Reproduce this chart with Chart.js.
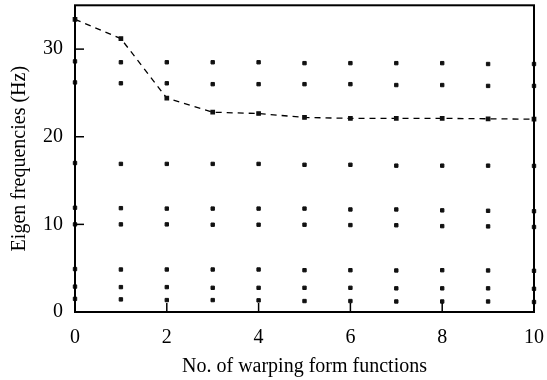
<!DOCTYPE html>
<html lang="en">
<head>
  <meta charset="UTF-8">
  <title>Eigen frequencies</title>
  <script src="https://cdn.jsdelivr.net/npm/chart.js"></script>
  <style>
    html, body { margin: 0; padding: 0; background: #fff; }
    #wrap { width: 547px; height: 380px; }
  </style>
</head>
<body>
<div id="wrap"><canvas id="chart" width="547" height="380"></canvas></div>
<script>
  // number of warping form functions
  const nFunctions = [0, 1, 2, 3, 4, 5, 6, 7, 8, 9, 10];
  const yTicks = [0, 10, 20, 30];
  const xTicks = [0, 2, 4, 6, 8, 10];

  // eigen frequencies (Hz), one array per mode
  const freqDashed = [33.4, 31.2, 24.4, 22.8, 22.65, 22.2, 22.1, 22.1, 22.1, 22.05, 22.0];
  const freq28 = [28.6, 28.5, 28.5, 28.5, 28.5, 28.4, 28.4, 28.4, 28.4, 28.3, 28.3];
  const freq26 = [26.2, 26.1, 26.1, 26.0, 26.0, 26.0, 26.0, 25.9, 25.9, 25.8, 25.8];
  const freq17 = [17.0, 16.9, 16.9, 16.9, 16.9, 16.8, 16.8, 16.7, 16.7, 16.7, 16.67];
  const freq12 = [11.9, 11.85, 11.8, 11.8, 11.8, 11.8, 11.7, 11.7, 11.6, 11.55, 11.5];
  const freq10 = [10.0, 10.0, 10.0, 9.96, 9.96, 9.96, 9.92, 9.9, 9.8, 9.77, 9.7];
  const freq5 = [4.9, 4.85, 4.85, 4.85, 4.85, 4.77, 4.77, 4.74, 4.77, 4.74, 4.7];
  const freq3 = [2.9, 2.84, 2.84, 2.76, 2.76, 2.76, 2.76, 2.7, 2.7, 2.7, 2.65];
  const freq1 = [1.5, 1.44, 1.36, 1.36, 1.33, 1.25, 1.25, 1.2, 1.2, 1.2, 1.14];

  const FONT = "'Liberation Serif', 'DejaVu Serif', serif";

  function pts(arr) {
    return arr.map((v, i) => ({ x: nFunctions[i], y: v }));
  }

  function markers(arr) {
    return {
      data: pts(arr),
      showLine: false,
      pointStyle: 'rect',
      pointRadius: 2.4,
      pointBackgroundColor: '#111',
      pointBorderColor: '#111',
      pointBorderWidth: 1,
      clip: false
    };
  }

  // frame + inward ticks, like gnuplot
  const framePlugin = {
    id: 'frame',
    afterDatasetsDraw(chart) {
      const { ctx, chartArea: a, scales } = chart;
      ctx.save();
      ctx.strokeStyle = '#000';
      ctx.lineWidth = 1.5;
      xTicks.forEach(v => {
        const px = scales.x.getPixelForValue(v);
        ctx.beginPath();
        ctx.moveTo(px, a.bottom);
        ctx.lineTo(px, a.bottom - 9);
        ctx.stroke();
      });
      yTicks.forEach(v => {
        const py = scales.y.getPixelForValue(v);
        ctx.beginPath();
        ctx.moveTo(a.left, py);
        ctx.lineTo(a.left + 9, py);
        ctx.stroke();
      });
      ctx.lineWidth = 2;
      ctx.strokeRect(a.left, a.top, a.right - a.left, a.bottom - a.top);
      ctx.restore();
    }
  };

  new Chart(document.getElementById('chart'), {
    type: 'scatter',
    data: {
      datasets: [
        {
          data: pts(freqDashed),
          showLine: true,
          borderColor: '#000',
          borderWidth: 1.3,
          borderDash: [6, 5],
          tension: 0,
          pointStyle: 'rect',
          pointRadius: 2.4,
          pointBackgroundColor: '#111',
          pointBorderColor: '#111',
          clip: false
        },
        markers(freq28),
        markers(freq26),
        markers(freq17),
        markers(freq12),
        markers(freq10),
        markers(freq5),
        markers(freq3),
        markers(freq1)
      ]
    },
    options: {
      responsive: false,
      animation: false,
      layout: { padding: { top: 5, right: 13, left: 0, bottom: 0 } },
      plugins: { legend: { display: false }, tooltip: { enabled: false } },
      scales: {
        x: {
          type: 'linear',
          min: 0,
          max: 10,
          afterBuildTicks: s => { s.ticks = xTicks.map(v => ({ value: v })); },
          afterFit: s => { s.height = 68; s.paddingLeft = 0; s.paddingRight = 0; },
          grid: { display: false, drawTicks: false },
          border: { display: false },
          ticks: { color: '#000', padding: 14, font: { family: FONT, size: 20 } },
          title: {
            display: true,
            text: 'No. of warping form functions',
            color: '#000',
            padding: { top: 4, bottom: 1 },
            font: { family: FONT, size: 20 }
          }
        },
        y: {
          min: 0,
          max: 35,
          afterBuildTicks: s => { s.ticks = yTicks.map(v => ({ value: v })); },
          afterFit: s => { s.width = 75; s.paddingTop = 0; s.paddingBottom = 0; },
          grid: { display: false, drawTicks: false },
          border: { display: false },
          ticks: { color: '#000', padding: 12, font: { family: FONT, size: 20 } },
          title: {
            display: true,
            text: 'Eigen frequencies (Hz)',
            color: '#000',
            padding: { top: 8, bottom: 0 },
            font: { family: FONT, size: 20 }
          }
        }
      }
    },
    plugins: [framePlugin]
  });
</script>
</body>
</html>
